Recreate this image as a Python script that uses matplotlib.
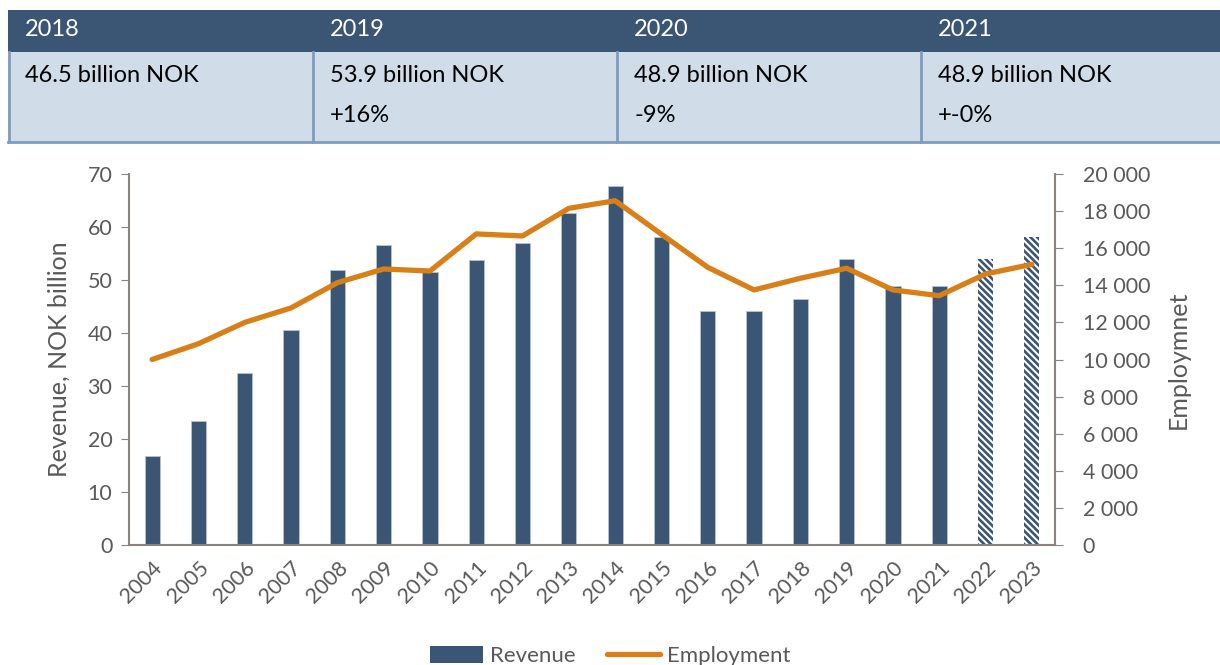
import numpy as np
import matplotlib
matplotlib.use("Agg")
import matplotlib.pyplot as plt
from matplotlib.patches import Rectangle, Patch
from matplotlib.lines import Line2D
from matplotlib.ticker import FuncFormatter

plt.rcParams['font.family'] = ['Lato', 'DejaVu Sans']
plt.rcParams['hatch.linewidth'] = 1.9

years = [str(y) for y in range(2004, 2024)]
revenue = [16.8, 23.4, 32.5, 40.6, 51.9, 56.6, 51.6, 53.8, 57.0, 62.7,
           67.7, 58.1, 44.2, 44.2, 46.5, 53.9, 48.9, 48.9, 54.0, 58.1]
employment = [10000, 10850, 12000, 12780, 14140, 14880, 14770, 16770, 16660, 18150,
              18560, 16750, 14970, 13750, 14380, 14920, 13750, 13440, 14610, 15130]
forecast = [False] * 18 + [True, True]

tbl_years = ["2018", "2019", "2020", "2021"]
tbl_values = ["46.5 billion NOK", "53.9 billion NOK", "48.9 billion NOK", "48.9 billion NOK"]
tbl_change = ["", "+16%", "-9%", "+-0%"]

navy = "#3A5674"
orange = "#D97F18"
grey = "#595959"
spine_c = "#8A847C"

W, H = 1220, 665
fig = plt.figure(figsize=(W / 100, H / 100), dpi=100)

# table on top
col_x = [8, 313, 617, 921, 1220]
def fx(px):
    return px / W
def fy(py):
    return 1 - py / H

fig.patches.append(Rectangle((fx(8), fy(52)), fx(1220 - 8), (52 - 10) / H,
                             transform=fig.transFigure, facecolor=navy, edgecolor='none'))
fig.patches.append(Rectangle((fx(8), fy(142)), fx(1220 - 8), (142 - 52) / H,
                             transform=fig.transFigure, facecolor="#D0DCE8", edgecolor='none'))
bc = "#7D9CC0"
fig.add_artist(Line2D([fx(8), fx(1220)], [fy(142), fy(142)], color=bc, lw=2))
fig.add_artist(Line2D([fx(9), fx(9)], [fy(52), fy(142)], color=bc, lw=2))
for x in col_x[1:4]:
    fig.add_artist(Line2D([fx(x), fx(x)], [fy(52), fy(142)], color=bc, lw=2))
for i in range(4):
    x0 = col_x[i] + 17
    fig.text(fx(x0), fy(30), tbl_years[i], color='white', fontsize=17, va='center', ha='left')
    fig.text(fx(x0), fy(75), tbl_values[i], color='black', fontsize=17, va='center', ha='left')
    if tbl_change[i]:
        fig.text(fx(x0), fy(116), tbl_change[i], color='black', fontsize=17, va='center', ha='left')

# chart
ax = fig.add_axes([fx(129), fy(545), fx(1055 - 129), (545 - 174) / H])
x = np.arange(len(years))
for i in range(len(years)):
    if forecast[i]:
        ax.bar(x[i], revenue[i], width=0.33, facecolor='white', edgecolor=navy,
               hatch='\\\\\\\\\\', linewidth=0)
    else:
        ax.bar(x[i], revenue[i], width=0.33, color=navy, edgecolor="#B8C4D2", linewidth=0.6)

ax.set_xlim(-0.5, len(years) - 0.5)
ax.set_ylim(0, 70)
ax.set_yticks(range(0, 71, 10))
ax.set_xticks(x)
ax.set_xticklabels(years, rotation=45, ha='right', rotation_mode='anchor')
ax.tick_params(axis='x', length=0, labelsize=15.5, labelcolor=grey, pad=9)
ax.tick_params(axis='y', length=6, color=spine_c, labelsize=15.5, labelcolor=grey, pad=6)
ax.set_ylabel("Revenue, NOK billion", fontsize=18, color=grey, labelpad=12)
for s in ['top', 'right']:
    ax.spines[s].set_visible(False)
for s in ['left', 'bottom']:
    ax.spines[s].set_color(spine_c)
    ax.spines[s].set_linewidth(1.5)

ax2 = ax.twinx()
ax2.plot(x, employment, color=orange, lw=3.8, solid_joinstyle='round', solid_capstyle='round')
ax2.set_ylim(0, 20000)
ax2.set_yticks(range(0, 20001, 2000))
ax2.yaxis.set_major_formatter(FuncFormatter(lambda v, p: f"{int(v):,}".replace(",", " ")))
ax2.tick_params(axis='y', length=6, color=spine_c, labelsize=15.5, labelcolor=grey, pad=14)
ax2.set_ylabel("Employmnet", fontsize=18, color=grey, labelpad=12)
for s in ['top', 'left', 'bottom']:
    ax2.spines[s].set_visible(False)
ax2.spines['right'].set_color(spine_c)
ax2.spines['right'].set_linewidth(1.5)

handles = [Patch(facecolor=navy, edgecolor='none'),
           Line2D([0], [0], color=orange, lw=3.8, solid_capstyle='round')]
fig.legend(handles, ["Revenue", "Employment"], loc='center', bbox_to_anchor=(0.5, fy(656)),
           ncol=2, frameon=False, fontsize=16, labelcolor=grey, handlelength=2.4,
           handleheight=0.8, columnspacing=1.4, handletextpad=0.3)

fig.savefig("out.png", dpi=100)
